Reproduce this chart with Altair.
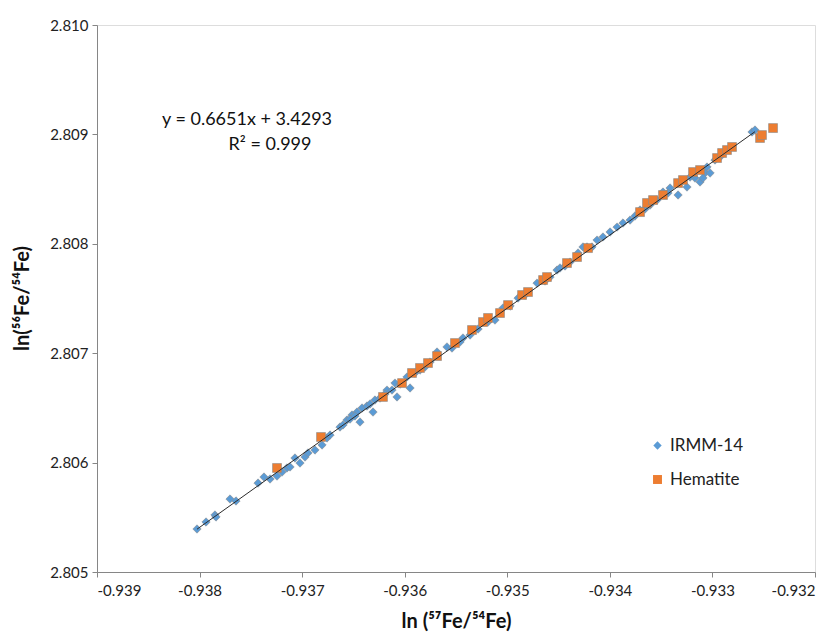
import altair as alt
import pandas as pd

# IRMM-14 standard (blue diamonds)
irmm_x = [-0.938025, -0.937937, -0.937850, -0.937840, -0.937703, -0.937645, -0.937430, -0.937372,
          -0.937313, -0.937245, -0.937196, -0.937148, -0.937118, -0.937070, -0.937021, -0.936972,
          -0.936943, -0.936875, -0.936806, -0.936758, -0.936728, -0.936631, -0.936563, -0.936514,
          -0.936465, -0.936416, -0.936436, -0.936368, -0.936309, -0.936290, -0.936173, -0.936075,
          -0.936095, -0.935948, -0.935978, -0.935685, -0.935588, -0.935539, -0.935432, -0.935120,
          -0.935042, -0.934895, -0.934710, -0.934515, -0.934486, -0.934310, -0.934262, -0.934223,
          -0.934125, -0.934067, -0.933998, -0.933930, -0.933872, -0.933803, -0.933706, -0.933540,
          -0.933482, -0.933413, -0.933335, -0.933248, -0.933170, -0.933121, -0.933072, -0.933053,
          -0.933023, -0.933092, -0.932614, -0.932585,
          -0.936602, -0.936533, -0.936485, -0.936338, -0.936241, -0.936192, -0.936124, -0.936046,
          -0.935900, -0.935851, -0.935802, -0.935753, -0.935461, -0.935363, -0.935285, -0.935188,
          -0.934973, -0.934827, -0.934632, -0.934583, -0.934437, -0.934388, -0.934174, -0.933755,
          -0.933657, -0.933608, -0.933433, -0.933218, -0.932975, -0.932926]
irmm_y = [2.805393, 2.805457, 2.805521, 2.805503, 2.805667, 2.805649, 2.805813, 2.805868,
          2.805850, 2.805877, 2.805914, 2.805951, 2.805960, 2.806042, 2.805996, 2.806051,
          2.806088, 2.806115, 2.806161, 2.806225, 2.806252, 2.806325, 2.806389, 2.806435,
          2.806462, 2.806499, 2.806371, 2.806517, 2.806462, 2.806572, 2.806663, 2.806600,
          2.806727, 2.806682, 2.806782, 2.807011, 2.807057, 2.807047, 2.807139, 2.807303,
          2.807413, 2.807504, 2.807641, 2.807760, 2.807779, 2.807916, 2.807971, 2.807971,
          2.808034, 2.808062, 2.808108, 2.808153, 2.808190, 2.808217, 2.808309, 2.808400,
          2.808473, 2.808510, 2.808446, 2.808519, 2.808601, 2.808565, 2.808647, 2.808702,
          2.808647, 2.808601, 2.809022, 2.809040,
          2.806344, 2.806398, 2.806426, 2.806536, 2.806590, 2.806627, 2.806663, 2.806718,
          2.806819, 2.806846, 2.806874, 2.806919, 2.807102, 2.807166, 2.807221, 2.807285,
          2.807431, 2.807532, 2.807660, 2.807696, 2.807797, 2.807833, 2.807971, 2.808254,
          2.808318, 2.808354, 2.808464, 2.808610, 2.808766, 2.808793]

# Hematite (orange squares)
hem_x = [-0.937245, -0.936816, -0.936212, -0.936026, -0.935929, -0.935851, -0.935773, -0.935685,
         -0.935510, -0.935344, -0.935237, -0.935188, -0.935071, -0.934993, -0.934856, -0.934798,
         -0.934651, -0.934613, -0.934418, -0.934320, -0.934213, -0.933706, -0.933638, -0.933579,
         -0.933482, -0.933335, -0.933287, -0.933189, -0.933121, -0.932955, -0.932906, -0.932858,
         -0.932809, -0.932536, -0.932517, -0.932409]
hem_y = [2.805951, 2.806234, 2.806600, 2.806727, 2.806819, 2.806865, 2.806910, 2.806974,
         2.807093, 2.807212, 2.807285, 2.807322, 2.807367, 2.807440, 2.807532, 2.807559,
         2.807669, 2.807696, 2.807824, 2.807879, 2.807961, 2.808290, 2.808373, 2.808400,
         2.808446, 2.808555, 2.808583, 2.808656, 2.808674, 2.808784, 2.808830, 2.808857,
         2.808885, 2.808967, 2.808994, 2.809058]

series_names = ["IRMM-14", "Hematite"]
series_colors = ["#5B9BD5", "#ED7D31"]
series_shapes = ["diamond", "square"]

x_ticks = [-0.939, -0.938, -0.937, -0.936, -0.935, -0.934, -0.933, -0.932]
y_ticks = [2.805, 2.806, 2.807, 2.808, 2.809, 2.810]

df = pd.concat([
    pd.DataFrame({"x": irmm_x, "y": irmm_y, "series": series_names[0]}),
    pd.DataFrame({"x": hem_x, "y": hem_y, "series": series_names[1]}),
], ignore_index=True)

FONT = "Lato"
AXIS_COLOR = "#868686"

x_enc = alt.X("x:Q",
              scale=alt.Scale(domain=[x_ticks[0], x_ticks[-1]], nice=False, zero=False),
              axis=alt.Axis(values=x_ticks, title="ln (⁵⁷Fe/⁵⁴Fe)", grid=False,
                            labelExpr="replace(format(datum.value, '.3f'), '\u2212', '-')",
                            labelFontSize=15, labelColor="#222", labelFont=FONT,
                            titleFontSize=20, titleFont=FONT, titleFontWeight="bold",
                            titleColor="#111", titleY=49, titleBaseline="middle",
                            domainColor=AXIS_COLOR, tickColor=AXIS_COLOR, tickSize=5,
                            labelPadding=6))
y_enc = alt.Y("y:Q",
              scale=alt.Scale(domain=[y_ticks[0], y_ticks[-1]], nice=False, zero=False),
              axis=alt.Axis(values=y_ticks, title="ln(⁵⁶Fe/⁵⁴Fe)", grid=False, format=".3f",
                            labelFontSize=15, labelColor="#222", labelFont=FONT,
                            titleFontSize=20, titleFont=FONT, titleFontWeight="bold",
                            titleColor="#111", titleX=-75, titleY=273, titleAngle=-90,
                            titleAlign="center", titleBaseline="middle",
                            domainColor=AXIS_COLOR, tickColor=AXIS_COLOR, tickSize=5,
                            labelPadding=4))

points = alt.Chart(df).mark_point(filled=True, opacity=1, strokeWidth=0.6, stroke="#8c8c8c").encode(
    x=x_enc,
    y=y_enc,
    color=alt.Color("series:N", scale=alt.Scale(domain=series_names, range=series_colors),
                    legend=alt.Legend(title=None, orient="none", legendX=552, legendY=412,
                                      labelFontSize=17, labelFont=FONT, labelColor="#222",
                                      symbolSize=45, rowPadding=16, symbolStrokeWidth=0)),
    shape=alt.Shape("series:N", scale=alt.Scale(domain=series_names, range=series_shapes)),
    size=alt.Size("series:N", scale=alt.Scale(domain=series_names, range=[70, 80]), legend=None),
    order=alt.Order("order:Q"),
).transform_calculate(order="datum.series == 'IRMM-14' ? 0 : 1")

trend = alt.Chart(df).transform_filter(
    alt.datum.series == series_names[0]
).transform_regression("x", "y").mark_line(color="#2b2b2b", strokeWidth=1).encode(
    x="x:Q", y="y:Q"
)

eq1 = alt.Chart().mark_text(fontSize=18, font=FONT, color="#111", align="center", baseline="middle").encode(
    x=alt.value(150), y=alt.value(95), text=alt.value("y = 0.6651x + 3.4293"))
eq2 = alt.Chart().mark_text(fontSize=18, font=FONT, color="#111", align="center", baseline="middle").encode(
    x=alt.value(173), y=alt.value(120), text=alt.value("R² = 0.999"))

chart = alt.layer(points, trend, eq1, eq2).properties(
    width=718, height=547,
    autosize=alt.AutoSizeParams(type="none"),
    padding={"left": 89, "top": 17, "right": 10, "bottom": 60},
).configure_view(stroke=None).configure(background="white")

chart.save("out.html", embed_options={"renderer": "svg", "actions": False})
